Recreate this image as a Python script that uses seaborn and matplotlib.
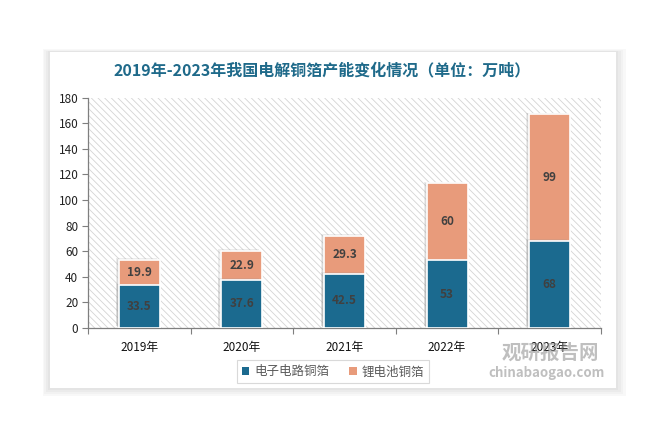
import matplotlib
matplotlib.use("Agg")
import matplotlib.pyplot as plt
import matplotlib.patheffects as pe
from matplotlib.patches import Rectangle, Patch
import numpy as np
import pandas as pd
import seaborn as sns

years = ["2019年", "2020年", "2021年", "2022年", "2023年"]
electronic = [33.5, 37.6, 42.5, 53, 68]
lithium = [19.9, 22.9, 29.3, 60, 99]
electronic_labels = ["33.5", "37.6", "42.5", "53", "68"]
lithium_labels = ["19.9", "22.9", "29.3", "60", "99"]

sns.set_theme(style="white")
plt.rcParams["font.family"] = ["Noto Sans CJK SC", "DejaVu Sans"]
plt.rcParams["hatch.linewidth"] = 0.6
plt.rcParams["hatch.color"] = "#d4d4d4"

blue = "#1b6a8f"
salmon = "#e89b7b"

df = pd.DataFrame({"year": years, "electronic": electronic, "lithium": lithium})
df["total"] = df["electronic"] + df["lithium"]

fig = plt.figure(figsize=(6.67, 4.38), dpi=100)
fig.patch.set_facecolor("white")

# card with soft shadow
for i, a in enumerate([0.05, 0.05, 0.06, 0.07]):
    d = (4 - i) * 0.004
    fig.patches.append(Rectangle((0.075 - d * 0.7, 0.114 - d * 1.2), 0.8485 + d * 1.6, 0.767 + d * 1.6,
                                 transform=fig.transFigure, facecolor="#888888", alpha=a,
                                 edgecolor="none", zorder=-2))
fig.patches.append(Rectangle((0.075, 0.114), 0.8485, 0.767, transform=fig.transFigure,
                             facecolor="white", edgecolor="none", zorder=-1))

ax = fig.add_axes([0.132, 0.251, 0.769, 0.526])
ax.set_zorder(3)
ax.set_facecolor("none")
ax.add_patch(Rectangle((0, 0), 1, 1, transform=ax.transAxes, facecolor="white",
                       hatch="\\\\\\\\\\", edgecolor="#d4d4d4", linewidth=0, zorder=0))

sns.barplot(data=df, x="year", y="total", color=salmon, width=0.4, edgecolor="white",
            linewidth=1.2, saturation=1, ax=ax, zorder=2)
sns.barplot(data=df, x="year", y="electronic", color=blue, width=0.4, edgecolor="white",
            linewidth=1.2, saturation=1, ax=ax, zorder=3)

n = len(years)
for cont in ax.containers:
    for p in cont:
        p.set_path_effects([
            pe.SimplePatchShadow(offset=(-2.2, 1.2), shadow_rgbFace="#999999", alpha=0.18),
            pe.SimplePatchShadow(offset=(-1.2, 0.6), shadow_rgbFace="#999999", alpha=0.22),
            pe.Normal()])

ax.bar_label(ax.containers[1], labels=electronic_labels, label_type="center",
             fontsize=8.5, fontweight="bold", color="#404040")
for rect, lab, lv in zip(ax.containers[0], lithium_labels, lithium):
    ax.text(rect.get_x() + rect.get_width() / 2, rect.get_height() - lv / 2, lab,
            ha="center", va="center", fontsize=8.5, fontweight="bold", color="#404040", zorder=5)

ax.set_xlim(-0.5, n - 0.5)
ax.set_ylim(0, 180)
ax.set_yticks(np.arange(0, 181, 20))
ax.set_xlabel("")
ax.set_ylabel("")
ax.tick_params(axis="y", left=True, length=4, width=0.8, color="#7f7f7f", labelsize=8.5,
               labelcolor="#222222", pad=3)
ax.tick_params(axis="x", bottom=False, labelsize=8.5, labelcolor="#111111", pad=3)
ax.set_xticks(np.arange(-0.5, n, 1), minor=True)
ax.tick_params(axis="x", which="minor", bottom=True, length=4, width=0.8, color="#7f7f7f")
for s in ["top", "right"]:
    ax.spines[s].set_visible(False)
for s in ["left", "bottom"]:
    ax.spines[s].set_color("#7f7f7f")
    ax.spines[s].set_linewidth(0.9)

fig.text(0.483, 0.840, "2019年-2023年我国电解铜箔产能变化情况（单位：万吨）", ha="center", va="center",
         fontsize=11.5, fontweight="bold", color="#1f6a8a")

handles = [Patch(facecolor=blue, edgecolor="none"), Patch(facecolor=salmon, edgecolor="none")]
leg = fig.legend(handles, ["电子电路铜箔", "锂电池铜箔"], loc="center", bbox_to_anchor=(0.499, 0.151),
                 ncol=2, frameon=True, fancybox=False, fontsize=9, handlelength=0.6,
                 handleheight=0.6, handletextpad=0.4, columnspacing=1.6, borderpad=0.4)
leg.get_frame().set_edgecolor("#d0d0d0")
leg.get_frame().set_linewidth(0.8)
for t in leg.get_texts():
    t.set_color("#595959")

# watermark
fig.text(0.825, 0.194, "观研报告网", ha="center", va="center", fontsize=14, fontweight="bold",
         color="#8c8c8c", alpha=0.55, zorder=10)
fig.text(0.820, 0.148, "chinabaogao.com", ha="center", va="center", fontsize=9.5, fontweight="bold",
         color="#8c8c8c", alpha=0.55, zorder=10)

fig.savefig("out.png", dpi=100)
